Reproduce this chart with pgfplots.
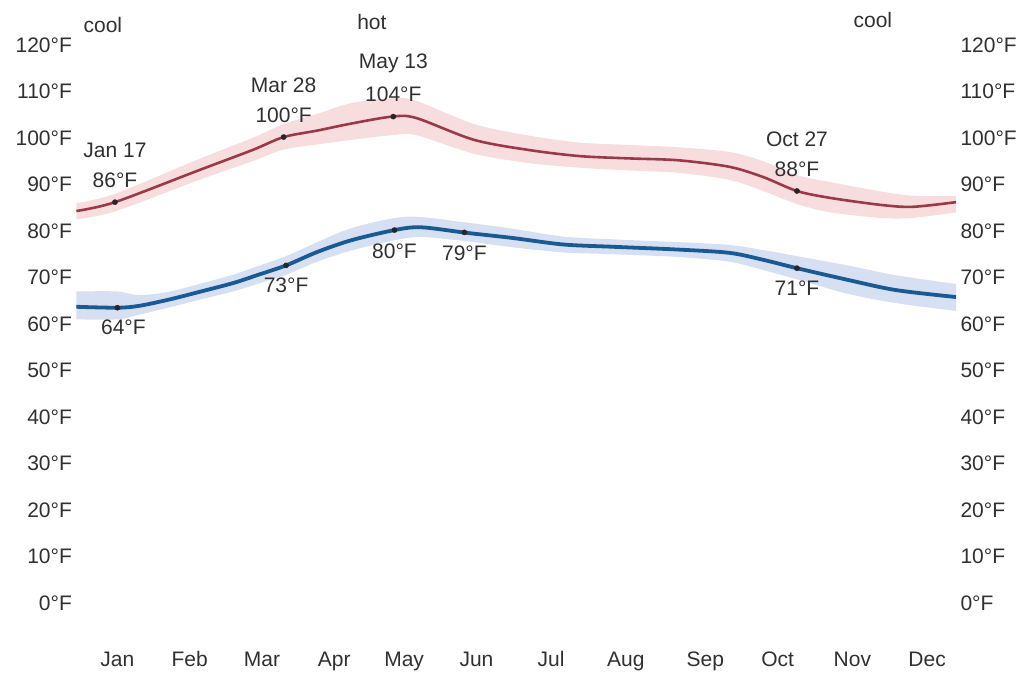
\documentclass[border=0pt]{standalone}
\usepackage{pgfplots}
\pgfplotsset{compat=1.18}
\usepackage{pgfplotstable}
\usepgfplotslibrary{fillbetween}
\usepackage{fontspec}
\setmainfont{Liberation Sans}
\definecolor{txt}{HTML}{303030}
\definecolor{hiline}{HTML}{9A3A48}
\definecolor{loline}{HTML}{1A5A92}
\definecolor{hiband}{HTML}{F6D4D6}
\definecolor{loband}{HTML}{CDD7F0}

\pgfplotstableread{
day t up lo
0 84.3 86.0 82.5
16 86.2 88.0 84.2
51 93.1 95.5 91.0
73 97.4 100.0 95.0
86 100.2 103.0 97.5
100 101.6 105.2 98.6
114 103.1 107.5 99.6
131 104.6 108.6 100.6
141 104.3 108.0 100.6
165 99.6 103.0 96.6
188 97.4 100.5 94.6
209 96.1 99.0 93.6
230 95.6 98.5 93.0
250 95.2 98.0 92.5
271 93.8 97.0 91.0
285 91.6 95.0 88.6
299 88.6 92.0 85.8
313 87.1 90.5 84.0
334 85.6 88.5 82.8
347 85.2 87.6 82.8
365 86.2 87.5 84.0
}\hightab

\pgfplotstableread{
day t up lo
0 63.7 67.0 61.0
17 63.5 67.0 61.0
26 63.9 66.2 62.0
38 65.2 66.9 63.5
51 66.9 68.6 65.2
65 68.8 70.6 67.0
75 70.5 72.4 68.6
87 72.6 74.6 70.6
100 75.5 77.6 73.4
114 78.0 80.6 75.8
132 80.2 82.8 78.0
143 80.8 83.0 78.7
162 79.6 81.8 77.8
181 78.5 80.5 76.5
202 77.1 78.8 75.4
223 76.6 78.2 75.0
250 76.0 77.6 74.4
271 75.3 77.0 73.4
285 73.8 75.9 71.6
299 72.0 74.6 69.6
320 69.5 72.6 66.5
340 67.3 70.5 64.5
365 65.8 68.6 62.8
}\lowtab

\begin{document}
\begin{tikzpicture}[
  lbl/.style={font=\fontsize{21}{24}\selectfont, text=txt, inner sep=0pt, anchor=center}]
\begin{axis}[
  at={(0pt,0pt)}, anchor=south west,
  scale only axis, width=879.6pt, height=558pt,
  xmin=0, xmax=365, ymin=0, ymax=120, clip=false,
  axis line style={draw=none}, tick style={draw=none},
  ytick={0,10,...,120},
  yticklabel={\pgfmathprintnumber[assume math mode=true]{\tick}°F},
  yticklabel style={font=\fontsize{21}{24}\selectfont, text=txt, anchor=east, xshift=-1pt},
  xtick={17,47,77,107,136,166,197,228,261,291,322,353},
  xticklabels={Jan,Feb,Mar,Apr,May,Jun,Jul,Aug,Sep,Oct,Nov,Dec},
  xticklabel style={font=\fontsize{21}{24}\selectfont, text=txt, anchor=center,
    text height=1.5ex, text depth=0.3ex, yshift=-60pt},
]
% high-temperature band
\addplot[draw=none, name path=hu, smooth] table[x=day, y=up] {\hightab};
\addplot[draw=none, name path=hl, smooth] table[x=day, y=lo] {\hightab};
\addplot[hiband, fill opacity=0.8] fill between[of=hu and hl];
\addplot[hiline, line width=2.6pt, smooth] table[x=day, y=t] {\hightab};
% low-temperature band
\addplot[draw=none, name path=lu, smooth] table[x=day, y=up] {\lowtab};
\addplot[draw=none, name path=ll, smooth] table[x=day, y=lo] {\lowtab};
\addplot[loband, fill opacity=0.8] fill between[of=lu and ll];
\addplot[loline, line width=3.8pt, smooth] table[x=day, y=t] {\lowtab};
% marked points
\addplot[only marks, mark=*, mark size=2.6pt, color=black!85]
  coordinates {(16,86.2) (86,100.2) (131.5,104.6) (299,88.6)
               (17,63.5) (87,72.6) (132,80.2) (161,79.7) (299,72.0)};
% high labels
\node[lbl] at (axis cs:16,86.2) [yshift=52pt] {Jan 17};
\node[lbl] at (axis cs:16,86.2) [yshift=22pt] {86°F};
\node[lbl] at (axis cs:86,100.2) [yshift=52pt] {Mar 28};
\node[lbl] at (axis cs:86,100.2) [yshift=22pt] {100°F};
\node[lbl] at (axis cs:131.5,104.6) [yshift=53pt] {May 13};
\node[lbl] at (axis cs:131.5,104.6) [yshift=22pt] {104°F};
\node[lbl] at (axis cs:299,88.6) [yshift=52pt] {Oct 27};
\node[lbl] at (axis cs:299,88.6) [yshift=22pt] {88°F};
% low labels
\node[lbl] at (axis cs:17,63.5) [yshift=-20pt, xshift=6pt] {64°F};
\node[lbl] at (axis cs:87,72.6) [yshift=-20pt] {73°F};
\node[lbl] at (axis cs:132,80.2) [yshift=-21pt] {80°F};
\node[lbl] at (axis cs:161,79.7) [yshift=-21pt] {79°F};
\node[lbl] at (axis cs:299,72.0) [yshift=-20pt] {71°F};
% season labels
\node[lbl] at (axis cs:11,124.3) {cool};
\node[lbl] at (axis cs:122.6,124.9) {hot};
\node[lbl] at (axis cs:330.5,125.4) {cool};
\end{axis}
\begin{axis}[
  at={(0pt,0pt)}, anchor=south west,
  scale only axis, width=879.6pt, height=558pt,
  xmin=0, xmax=365, ymin=0, ymax=120,
  axis line style={draw=none}, tick style={draw=none},
  xtick=\empty,
  ytick={0,10,...,120},
  yticklabel pos=right,
  yticklabel={\pgfmathprintnumber[assume math mode=true]{\tick}°F},
  yticklabel style={font=\fontsize{21}{24}\selectfont, text=txt, anchor=west, xshift=1pt},
]
\addplot[draw=none] coordinates {(0,0) (365,120)};
\end{axis}
\path (-76.4pt,-78pt) rectangle (948.6pt,603pt);
\end{tikzpicture}
\end{document}
